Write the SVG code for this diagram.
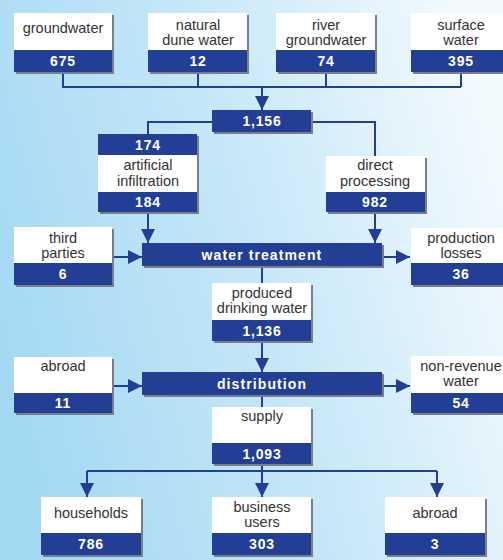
<svg xmlns="http://www.w3.org/2000/svg" width="503" height="560" viewBox="0 0 503 560">
<defs>
<linearGradient id="bg" x1="0" y1="0.6" x2="1" y2="0.3">
<stop offset="0" stop-color="#a4d9f4"/>
<stop offset="0.5" stop-color="#c6e7f8"/>
<stop offset="1" stop-color="#f3fafe"/>
</linearGradient>
<marker id="ah" markerUnits="userSpaceOnUse" markerWidth="14" markerHeight="16" viewBox="0 0 14 16" refX="14" refY="7" orient="auto">
<path d="M0,0 L14,7 L0,14 Z" fill="#233f95"/>
</marker>
<style>
.sh{fill:#7a7f86}
.wb{fill:#ffffff}
.bb{fill:#233f95}
.lbl{font-family:"Liberation Sans",Arial,sans-serif;font-size:14.5px;fill:#333333;text-anchor:middle}
.val{font-family:"Liberation Sans",Arial,sans-serif;font-size:14px;font-weight:bold;fill:#ffffff;text-anchor:middle;letter-spacing:0.8px}
.ln{fill:none;stroke:#233f95;stroke-width:2}
.ar{fill:none;stroke:#233f95;stroke-width:2;marker-end:url(#ah)}
</style>
</defs>
<rect x="0" y="0" width="503" height="560" fill="url(#bg)"/>

<g id="connectors">
<path class="ln" d="M63,72 V87 H461 M198,72 V87 M326,72 V87 M461,72 V87"/>
<path class="ar" d="M262,87 V110"/>
<path class="ln" d="M212,122 H148 V134"/>
<path class="ln" d="M311,122 H375 V156"/>
<path class="ar" d="M148,212 V243"/>
<path class="ar" d="M375,212 V243"/>
<path class="ar" d="M112,257 H142"/>
<path class="ar" d="M382,257 H410"/>
<path class="ln" d="M262,266 V283"/>
<path class="ar" d="M262,341 V372"/>
<path class="ar" d="M112,386 H142"/>
<path class="ar" d="M382,386 H410"/>
<path class="ln" d="M262,395 V407"/>
<path class="ln" d="M262,464 V471 M87,471 H437"/>
<path class="ar" d="M87,471 V497"/>
<path class="ar" d="M262,471 V497"/>
<path class="ar" d="M437,471 V497"/>
</g>

<g id="groundwater">
<rect class="sh" x="16" y="15" width="98" height="59"/>
<rect class="wb" x="14" y="13" width="98" height="37"/>
<rect class="bb" x="14" y="50" width="98" height="22"/>
<text class="lbl" x="63" y="33">groundwater</text>
<text class="val" x="63" y="66">675</text>
</g>

<g id="natural-dune-water">
<rect class="sh" x="150" y="15" width="99" height="59"/>
<rect class="wb" x="148" y="13" width="99" height="37"/>
<rect class="bb" x="148" y="50" width="99" height="22"/>
<text class="lbl" x="198" y="30">natural<tspan x="198" dy="14.5">dune water</tspan></text>
<text class="val" x="198" y="66">12</text>
</g>

<g id="river-groundwater">
<rect class="sh" x="278" y="15" width="99" height="59"/>
<rect class="wb" x="276" y="13" width="99" height="37"/>
<rect class="bb" x="276" y="50" width="99" height="22"/>
<text class="lbl" x="326" y="30">river<tspan x="326" dy="14.5">groundwater</tspan></text>
<text class="val" x="326" y="66">74</text>
</g>

<g id="surface-water">
<rect class="sh" x="413" y="15" width="99" height="59"/>
<rect class="wb" x="411" y="13" width="99" height="37"/>
<rect class="bb" x="411" y="50" width="99" height="22"/>
<text class="lbl" x="461" y="30">surface<tspan x="461" dy="14.5">water</tspan></text>
<text class="val" x="461" y="66">395</text>
</g>

<g id="total">
<rect class="sh" x="214" y="112" width="99" height="22"/>
<rect class="bb" x="212" y="110" width="99" height="22"/>
<text class="val" x="262" y="126">1,156</text>
</g>

<g id="artificial-infiltration">
<rect class="sh" x="100" y="136" width="99" height="78"/>
<rect class="bb" x="98" y="134" width="99" height="21"/>
<rect class="wb" x="98" y="155" width="99" height="37"/>
<rect class="bb" x="98" y="192" width="99" height="20"/>
<text class="val" x="148" y="150">174</text>
<text class="lbl" x="148" y="170">artificial<tspan x="148" dy="15.5">infiltration</tspan></text>
<text class="val" x="148" y="207">184</text>
</g>

<g id="direct-processing">
<rect class="sh" x="328" y="158" width="99" height="56"/>
<rect class="wb" x="326" y="156" width="99" height="36"/>
<rect class="bb" x="326" y="192" width="99" height="20"/>
<text class="lbl" x="375" y="170">direct<tspan x="375" dy="15.5">processing</tspan></text>
<text class="val" x="375" y="207">982</text>
</g>

<g id="third-parties">
<rect class="sh" x="16" y="229" width="98" height="58"/>
<rect class="wb" x="14" y="227" width="98" height="36"/>
<rect class="bb" x="14" y="263" width="98" height="22"/>
<text class="lbl" x="63" y="243">third<tspan x="63" dy="15">parties</tspan></text>
<text class="val" x="63" y="279">6</text>
</g>

<g id="water-treatment">
<rect class="sh" x="144" y="245" width="240" height="23"/>
<rect class="bb" x="142" y="243" width="240" height="23"/>
<text class="val" x="262" y="259.5" style="letter-spacing:1.1px">water treatment</text>
</g>

<g id="production-losses">
<rect class="sh" x="413" y="230" width="99" height="57"/>
<rect class="wb" x="411" y="228" width="99" height="35"/>
<rect class="bb" x="411" y="263" width="99" height="22"/>
<text class="lbl" x="461" y="243">production<tspan x="461" dy="15">losses</tspan></text>
<text class="val" x="461" y="279">36</text>
</g>

<g id="produced-drinking-water">
<rect class="sh" x="214" y="285" width="99" height="58"/>
<rect class="wb" x="212" y="283" width="99" height="37"/>
<rect class="bb" x="212" y="320" width="99" height="21"/>
<text class="lbl" x="262" y="298">produced<tspan x="262" dy="15">drinking water</tspan></text>
<text class="val" x="262" y="335.5">1,136</text>
</g>

<g id="abroad-in">
<rect class="sh" x="16" y="359" width="98" height="56"/>
<rect class="wb" x="14" y="357" width="98" height="36"/>
<rect class="bb" x="14" y="393" width="98" height="20"/>
<text class="lbl" x="63" y="371">abroad</text>
<text class="val" x="63" y="408">11</text>
</g>

<g id="distribution">
<rect class="sh" x="144" y="374" width="240" height="23"/>
<rect class="bb" x="142" y="372" width="240" height="23"/>
<text class="val" x="262" y="388.5" style="letter-spacing:1.1px">distribution</text>
</g>

<g id="non-revenue-water">
<rect class="sh" x="413" y="358" width="99" height="57"/>
<rect class="wb" x="411" y="356" width="99" height="37"/>
<rect class="bb" x="411" y="393" width="99" height="20"/>
<text class="lbl" x="461" y="371">non-revenue<tspan x="461" dy="15">water</tspan></text>
<text class="val" x="461" y="408">54</text>
</g>

<g id="supply">
<rect class="sh" x="214" y="409" width="99" height="57"/>
<rect class="wb" x="212" y="407" width="99" height="36"/>
<rect class="bb" x="212" y="443" width="99" height="21"/>
<text class="lbl" x="262" y="421">supply</text>
<text class="val" x="262" y="458.5">1,093</text>
</g>

<g id="households">
<rect class="sh" x="43" y="499" width="100" height="58"/>
<rect class="wb" x="41" y="497" width="100" height="36"/>
<rect class="bb" x="41" y="533" width="100" height="22"/>
<text class="lbl" x="91" y="518">households</text>
<text class="val" x="91" y="549">786</text>
</g>

<g id="business-users">
<rect class="sh" x="214" y="499" width="99" height="58"/>
<rect class="wb" x="212" y="497" width="99" height="36"/>
<rect class="bb" x="212" y="533" width="99" height="22"/>
<text class="lbl" x="262" y="512">business<tspan x="262" dy="15">users</tspan></text>
<text class="val" x="262" y="549">303</text>
</g>

<g id="abroad-out">
<rect class="sh" x="387" y="499" width="100" height="58"/>
<rect class="wb" x="385" y="497" width="100" height="36"/>
<rect class="bb" x="385" y="533" width="100" height="22"/>
<text class="lbl" x="435" y="518">abroad</text>
<text class="val" x="435" y="549">3</text>
</g>
</svg>
